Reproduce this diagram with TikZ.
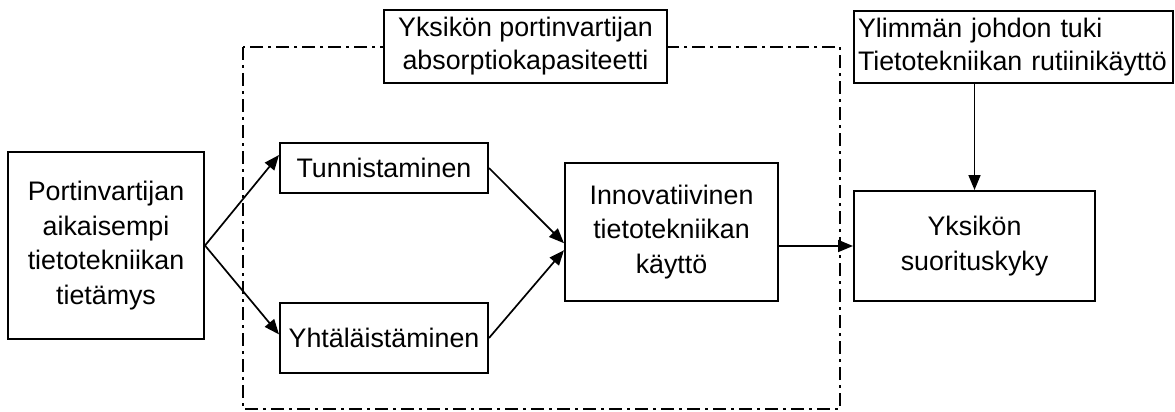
\documentclass[tikz,border=0pt]{standalone}
\usepackage{fontspec}
\setmainfont{Liberation Sans}
\usetikzlibrary{arrows.meta,calc}
\begin{document}
\begin{tikzpicture}[x=1pt,y=-1pt,
  box/.style={draw,line width=2pt,fill=white,inner sep=0pt,align=center,
    font=\fontsize{26.8}{34.5}\selectfont},
  arr/.style={line width=1.7pt,-{Triangle[length=15pt,width=12pt]}},
  group/.style={line width=1.8pt,dash pattern=on 13pt off 5pt on 3pt off 5pt}]
\useasboundingbox (0,0) rectangle (1175,412);
\fill[white] (0,0) rectangle (1175,412);

% dash-dotted group frame
\draw[group] (243,47) rectangle (840,409);

\node[box,minimum width=196pt,minimum height=187pt] (pv) at (106,245.5)
  {Portinvartijan\\aikaisempi\\tietotekniikan\\tietämys};
\node[box,minimum width=208pt,minimum height=50pt] (tun) at (384,168) {Tunnistaminen};
\node[box,minimum width=208pt,minimum height=70pt] (yht) at (384,338) {Yhtäläistäminen};
\node[box,minimum width=213pt,minimum height=138pt] (inn) at (671.5,232)
  {Innovatiivinen\\tietotekniikan\\käyttö};
\node[box,minimum width=241pt,minimum height=110pt] (suo) at (974.5,246)
  {Yksikön\\suorituskyky};
\node[box,minimum width=319pt,minimum height=72pt,align=left,text width=311pt,
  font=\fontsize{26.8}{32.5}\selectfont] (yli) at (1013.5,47)
  {Ylimmän johdon tuki\\Tietotekniikan rutiinikäyttö};
\node[box,minimum width=283pt,minimum height=73pt,
  font=\fontsize{26.8}{33}\selectfont] (lab) at (525.5,46.5)
  {Yksikön portinvartijan\\absorptiokapasiteetti};

\draw[arr] (pv.east) -- ($(tun.north west)!0.25!(tun.south west)$);
\draw[arr] (pv.east) -- ($(yht.north west)!0.45!(yht.south west)$);
\draw[arr] (tun.east) -- ($(inn.north west)!0.58!(inn.south west)$);
\draw[arr] (yht.east) -- ($(inn.north west)!0.63!(inn.south west)$);
\draw[arr] (inn.east |- suo.west) -- (suo.west);
\draw[arr] (suo.north |- yli.south) -- (suo.north);
\end{tikzpicture}
\end{document}
